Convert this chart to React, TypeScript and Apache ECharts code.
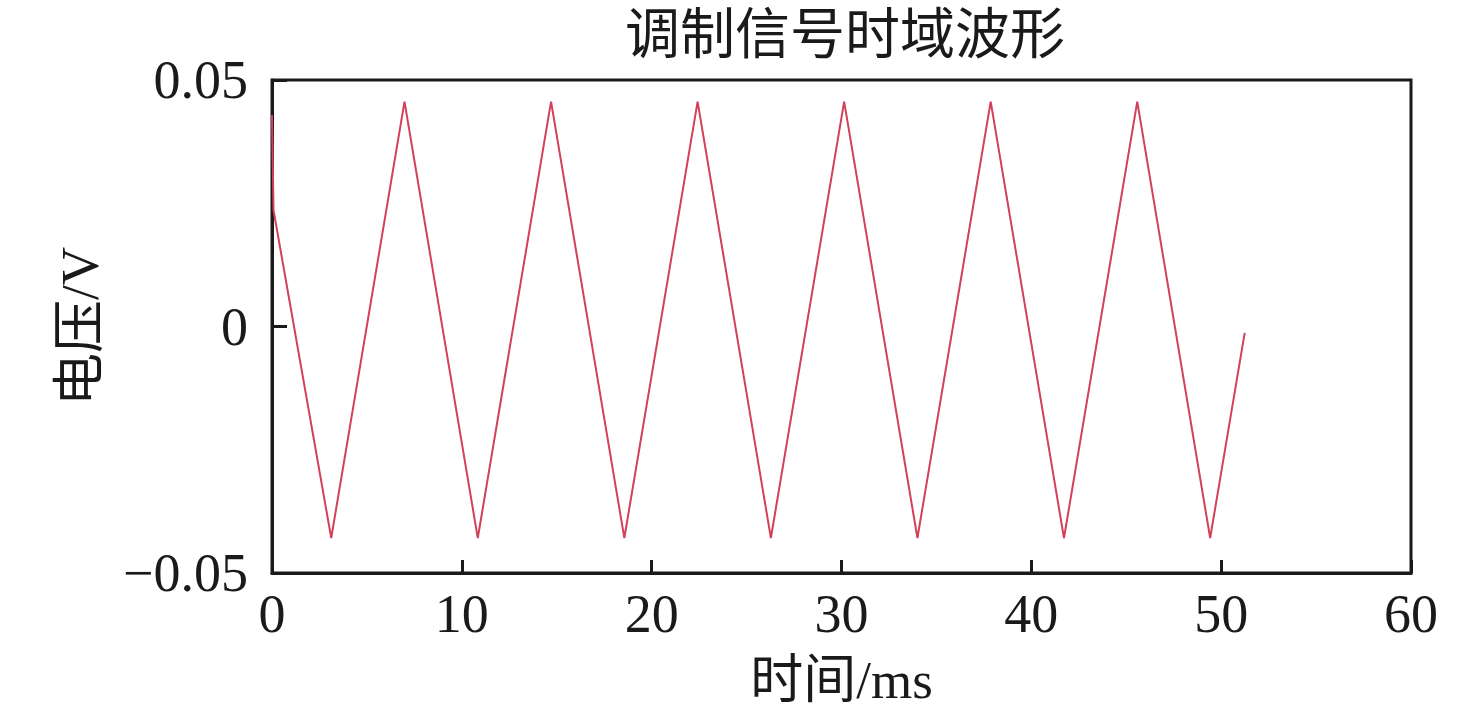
import React, { useEffect, useRef } from "react";
import * as echarts from "echarts";

const titleText = "调制信号时域波形";
const xAxisName = "时间/ms";
const yAxisName = "电压/V";

// time (ms) of each vertex of the waveform
const timeMs = [0, 0.08, 3.12, 6.98, 10.84, 14.7, 18.56, 22.42, 26.28, 30.14, 34.0, 37.86, 41.72, 45.58, 49.42, 51.24];
// voltage (V) at each vertex
const voltageV = [0.0429, 0.0236, -0.0429, 0.0456, -0.0429, 0.0456, -0.0429, 0.0456, -0.0429, 0.0456, -0.0429, 0.0456, -0.0429, 0.0456, -0.0429, -0.0013];

const xTicks = [0, 10, 20, 30, 40, 50, 60];
const yTicks = [-0.05, 0, 0.05];

const serif = "'Liberation Serif', 'Times New Roman', 'Noto Sans CJK SC', serif";
const ink = "#1a1a1a";

export default function App() {
  const ref = useRef<HTMLDivElement>(null);
  useEffect(() => {
    if (!ref.current) return;
    const chart = echarts.init(ref.current, undefined, { renderer: "svg" });
    const data = timeMs.map((t, i) => [t, voltageV[i]]);
    chart.setOption({
      animation: false,
      backgroundColor: "#ffffff",
      title: {
        text: titleText,
        left: 840,
        top: 2,
        textAlign: "center",
        textStyle: { fontFamily: serif, fontSize: 55, fontWeight: "normal", color: ink },
      },
      grid: {
        left: 272,
        right: 65,
        top: 80,
        bottom: 149,
        show: true,
        borderColor: ink,
        borderWidth: 3,
        backgroundColor: "transparent",
      },
      xAxis: {
        type: "value",
        min: xTicks[0],
        max: xTicks[xTicks.length - 1],
        interval: 10,
        name: xAxisName,
        nameLocation: "middle",
        nameGap: 80,
        nameTextStyle: { fontFamily: serif, fontSize: 53, color: ink },
        axisLine: { show: true, onZero: false, lineStyle: { color: ink, width: 3 } },
        axisTick: { show: true, inside: true, length: 13, lineStyle: { color: ink, width: 3 } },
        axisLabel: { fontFamily: serif, fontSize: 54, color: ink, margin: 14 },
        splitLine: { show: false },
      },
      yAxis: {
        type: "value",
        min: yTicks[0],
        max: yTicks[yTicks.length - 1],
        interval: 0.05,
        name: yAxisName,
        nameLocation: "middle",
        nameRotate: 90,
        nameGap: 166,
        nameTextStyle: { fontFamily: serif, fontSize: 53, color: ink },
        axisLine: { show: true, onZero: false, lineStyle: { color: ink, width: 3 } },
        axisTick: { show: true, inside: true, length: 15, lineStyle: { color: ink, width: 3 } },
        axisLabel: {
          fontFamily: serif,
          fontSize: 54,
          color: ink,
          margin: 24,
          formatter: (v: number) => {
            if (Math.abs(v) < 1e-9) return "0";
            const s = Math.abs(v).toFixed(2);
            return v < 0 ? "\u2212" + s : s;
          },
        },
        splitLine: { show: false },
      },
      series: [
        {
          type: "line",
          data,
          showSymbol: false,
          lineStyle: { color: "#d3405a", width: 2 },
          itemStyle: { color: "#d3405a" },
        },
      ],
    });
    return () => chart.dispose();
  }, []);
  return (
    <div
      ref={ref}
      style={{ position: "absolute", left: 0, top: 0, width: 1476, height: 722, background: "#fff" }}
    />
  );
}
